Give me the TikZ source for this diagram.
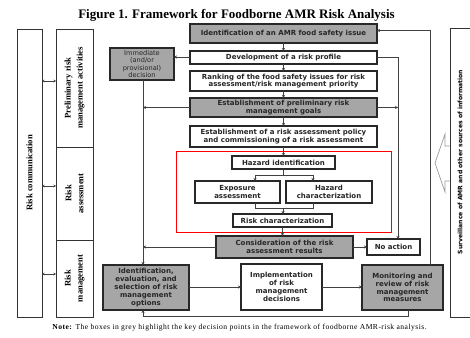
\documentclass[tikz,border=0pt]{standalone}
\usepackage{fontspec}
\setmainfont{Liberation Serif}
\newfontfamily\boxfont{DejaVu Sans}
\usetikzlibrary{arrows.meta}

\definecolor{boxgray}{RGB}{166,166,166}
\definecolor{inkgray}{RGB}{40,40,40}

\begin{document}
\begin{tikzpicture}[x=1pt,y=-1pt,
  base/.style={draw=inkgray, line width=1.3pt, align=center, inner sep=0.5pt, outer sep=0pt,
    font=\boxfont\bfseries\fontsize{7}{7.8}\selectfont, text=black!85},
  wbox/.style={base, fill=white},
  gbox/.style={base, fill=boxgray},
  frame/.style={draw=black!80, line width=0.8pt, outer sep=0pt, inner sep=0pt},
  lanetext/.style={rotate=90, align=center, font=\bfseries\fontsize{8.6}{12}\selectfont},
  conn/.style={draw=black!75, line width=0.9pt},
  arr/.style={conn, -{Stealth[length=3pt,width=3pt]}},
  dbl/.style={conn, line width=0.8pt, {Stealth[length=2.5pt,width=2.5pt]}-{Stealth[length=2.5pt,width=2.5pt]}}
]
\useasboundingbox (0,0) rectangle (470,337);

% title
\node[font=\bfseries\fontsize{13}{15}\selectfont] (title) at (236.5,15)
  {Figure 1. Framework for Foodborne AMR Risk Analysis};

% left lanes
\node[frame, minimum width=25pt, minimum height=288pt] (rc) at (29.5,173) {};
\node[lanetext] (rctext) at (rc.center) {Risk communication};
\node[frame, minimum width=37pt, minimum height=118pt] (pra) at (74.5,88) {};
\node[frame, minimum width=37pt, minimum height=93pt] (ras) at (74.5,193.5) {};
\node[frame, minimum width=37pt, minimum height=77pt] (rma) at (74.5,278.5) {};
\node[lanetext] (pratext) at (pra.center) {Preliminary risk\\management activities};
\node[lanetext] (rastext) at (ras.center) {Risk\\assessment};
\node[lanetext] (rmatext) at (rma.center) {Risk\\management};
\draw[dbl] (rc.east |- 0,81) -- (pra.west |- 0,81);
\draw[dbl] (rc.east |- 0,186) -- (ras.west |- 0,186);
\draw[dbl] (rc.east |- 0,274) -- (rma.west |- 0,274);

% main column
\node[gbox, line width=1.8pt, minimum width=187pt, minimum height=19pt] (b1) at (283.5,33.5)
  {Identification of an AMR food safety issue};
\node[wbox, minimum width=187pt, minimum height=13pt] (b2) at (283.5,57.5)
  {Development of a risk profile};
\node[wbox, minimum width=187pt, minimum height=20pt] (b3) at (283.5,81)
  {Ranking of the food safety issues for risk\\assessment/risk management priority};
\node[gbox, minimum width=187pt, minimum height=19pt] (b4) at (283.5,107.5)
  {Establishment of preliminary risk\\management goals};
\node[wbox, minimum width=187pt, minimum height=21pt] (b5) at (283.5,136.5)
  {Establishment of a risk assessment policy\\and commissioning of a risk assessment};
\node[gbox, minimum width=64pt, minimum height=32pt, font=\boxfont\fontsize{6.6}{7.4}\selectfont] (imm) at (142,64)
  {Immediate\\(and/or\\provisional)\\decision};

% risk assessment block
\draw[red, line width=1pt] (176,151) rectangle (391,232);
\node[wbox, minimum width=103pt, minimum height=13pt] (hid) at (283.5,162.5) {Hazard identification};
\node[wbox, minimum width=85pt, minimum height=22pt] (expo) at (237.5,192) {Exposure\\assessment};
\node[wbox, minimum width=86pt, minimum height=22pt] (hchar) at (329,192) {Hazard\\characterization};
\node[wbox, minimum width=99pt, minimum height=13pt] (rch) at (282.5,220.5) {Risk characterization};

\node[gbox, minimum width=137pt, minimum height=22pt] (cons) at (284.5,247)
  {Consideration of the risk\\assessment results};
\node[wbox, minimum width=53pt, minimum height=16pt] (noact) at (393.5,247) {No action};

% risk management row
\node[gbox, minimum width=86pt, minimum height=45pt] (idb) at (146,287.5)
  {Identification,\\evaluation, and\\selection of risk\\management\\options};
\node[wbox, minimum width=81pt, minimum height=46pt] (impl) at (281.5,287)
  {Implementation\\of risk\\management\\decisions};
\node[gbox, minimum width=81pt, minimum height=45pt] (mon) at (402.5,287.5)
  {Monitoring and\\review of risk\\management\\measures};

% surveillance
\node[frame, minimum width=25pt, minimum height=289pt] (surv) at (462.5,172.5) {};
\node[rotate=90, font=\boxfont\bfseries\fontsize{6.1}{8}\selectfont] (survtext) at (460,162)
  {Surveillance of AMR and other sources of information};
\draw[draw=black!40, line width=0.7pt]
  (450,146) -- (445,146) -- (445,134) -- (435,163) -- (445,192) -- (445,181) -- (450,181);

% flow down the main column
\draw[arr] (b1) -- (b2);
\draw[arr] (b2) -- (b3);
\draw[arr] (b3) -- (b4);
\draw[arr] (b4) -- (b5);
\draw[arr] (b5) -- (hid);
\draw[arr] (rch.south) -- (rch.south |- cons.north);

% hazard identification splits and joins
\coordinate (jt) at (283.5,175);
\coordinate (jtl) at (255,175);
\coordinate (jtr) at (313,175);
\coordinate (jb) at (283,208);
\coordinate (jbl) at (255,208);
\coordinate (jbr) at (313,208);
\draw[conn] (hid.south) -- (jt);
\draw[conn] (jtl) -- (jtr);
\draw[arr] (jtl) -- (jtl |- expo.north);
\draw[arr] (jtr) -- (jtr |- hchar.north);
\draw[conn] (jbl |- expo.south) -- (jbl) -- (jbr) -- (jbr |- hchar.south);
\draw[arr] (jb) -- (jb |- rch.north);

% left branch to the decision boxes
\draw[arr] (b2.west |- 0,57) -- (imm.east |- 0,57);
\draw[arr] ([xshift=1pt]imm.south) -- ([xshift=1pt]imm.south |- idb.north);
\draw[arr] (b4.west) -- ([xshift=1pt]b4.west -| imm.south);
\draw[arr] (cons.west) -- ([xshift=1pt]cons.west -| imm.south);

% right branch to no action
\coordinate (rv) at ([xshift=4.5pt]noact.north);
\draw[arr] (b2.east) -| (rv);
\draw[arr] (b4.east) -- (b4.east -| rv);
\draw[arr] (cons.east) -- (noact.west);

% management cycle
\draw[arr] (idb.east |- 0,287) -- (impl.west |- 0,287);
\draw[arr] (impl.east |- 0,287) -- (mon.west |- 0,287);
\draw[arr] ([xshift=5.5pt]mon.south) -- ++(0,6) -| ([xshift=-3pt]idb.south);
\draw[arr] ([xshift=27.5pt]mon.north) |- ([yshift=3pt]b1.east);

% note
\node[font=\addfontfeature{LetterSpace=6}\fontsize{7.6}{8.5}\selectfont] (note) at (239.5,328)
  {\textbf{Note:} The boxes in grey highlight the key decision points in the framework of foodborne AMR-risk analysis.};
\end{tikzpicture}
\end{document}
